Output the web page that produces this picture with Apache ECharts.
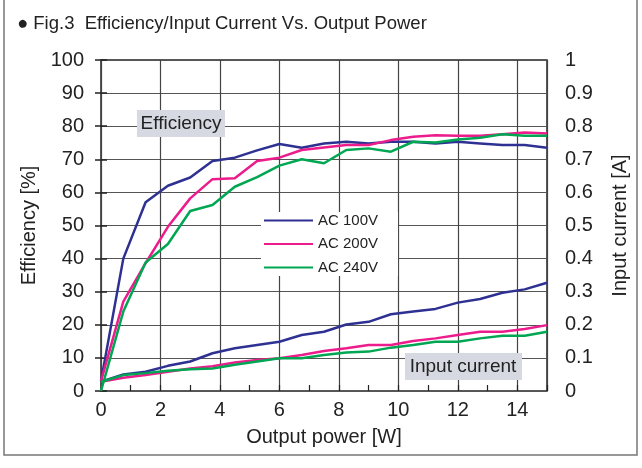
<!DOCTYPE html>
<html>
<head>
<meta charset="utf-8">
<script src="https://cdn.jsdelivr.net/npm/echarts@6/dist/echarts.min.js"></script>
<style>
html,body{margin:0;padding:0;background:#fff;}
#chart{width:642px;height:468px;}
</style>
</head>
<body>
<div id="chart"></div>
<script>
// ---- data ----
const powerW = [0,0.75,1.5,2.25,3,3.75,4.5,5.25,6,6.75,7.5,8.25,9,9.75,10.5,11.25,12,12.75,13.5,14.25,15];
const seriesNames = ['AC 100V','AC 200V','AC 240V'];
const effAC100 = [3,40,57,62,64.5,69.5,70.5,72.7,74.6,73.5,74.8,75.3,74.8,75.3,75.3,74.8,75.3,74.8,74.3,74.3,73.5];
const effAC200 = [3,27,38.6,49.6,58.2,64,64.3,69.5,70.5,72.8,73.6,74.3,74.3,75.8,76.8,77.3,77.1,77.1,77.6,78.1,77.8];
const effAC240 = [0,24,38.8,44.4,54.4,56.2,61.7,64.6,68.1,70,68.8,72.8,73.3,72.3,75.3,75.1,76,76.5,77.6,77.1,77.1];
const curAC100 = [0.028,0.05,0.058,0.076,0.089,0.114,0.129,0.139,0.149,0.169,0.179,0.201,0.209,0.232,0.24,0.248,0.267,0.278,0.297,0.307,0.327];
const curAC200 = [0.028,0.04,0.048,0.058,0.068,0.075,0.086,0.094,0.099,0.109,0.121,0.129,0.139,0.139,0.151,0.159,0.169,0.179,0.179,0.187,0.199];
const curAC240 = [0.028,0.048,0.054,0.061,0.066,0.068,0.079,0.089,0.099,0.099,0.109,0.116,0.119,0.131,0.139,0.149,0.149,0.159,0.167,0.167,0.179];
const titleText = '● Fig.3  Efficiency/Input Current Vs. Output Power';
const xName = 'Output power [W]';
const yLeftName = 'Efficiency [%]';
const yRightName = 'Input current [A]';
const noteEff = 'Efficiency';
const noteCur = 'Input current';

const colors = ['#2e3192','#ec1c8c','#00a651'];
const FONT = '"Liberation Sans", Arial, sans-serif';
const pairs = (ys) => powerW.map((x, i) => [x, ys[i]]);

const effSets = [effAC100, effAC200, effAC240];
const curSets = [curAC100, curAC200, curAC240];
const series = [];
seriesNames.forEach((n, k) => {
  series.push({type:'line', name:n, xAxisIndex:0, yAxisIndex:0, data:pairs(effSets[k]),
    symbol:'none', lineStyle:{color:colors[k], width:2.5}, itemStyle:{color:colors[k]}, z:5});
  series.push({type:'line', name:n, xAxisIndex:0, yAxisIndex:1, data:pairs(curSets[k]),
    symbol:'none', lineStyle:{color:colors[k], width:2.5}, itemStyle:{color:colors[k]}, z:5});
});

const chart = echarts.init(document.getElementById('chart'), null, {renderer:'canvas'});
chart.setOption({
  animation:false,
  backgroundColor:'#fff',
  title:{text:titleText, left:12, top:9, textStyle:{fontFamily:FONT, fontSize:18.5, fontWeight:'normal', color:'#222'}},
  grid:{left:101, top:60, width:446, height:331, show:true, borderColor:'#222', borderWidth:1.5, backgroundColor:'transparent'},
  legend:{
    data:seriesNames, orient:'vertical', left:261, top:212,
    itemWidth:49, itemHeight:14, itemGap:8.5,
    backgroundColor:'#fff', padding:[1,20,1,2],
    lineStyle:{width:2},
    itemStyle:{opacity:0},
    textStyle:{fontFamily:FONT, fontSize:15, color:'#222', lineHeight:14},
    selectedMode:false, z:4
  },
  xAxis:[{
    type:'value', min:0, max:15, interval:2,
    name:xName, nameLocation:'middle', nameGap:36,
    nameTextStyle:{fontFamily:FONT, fontSize:20, color:'#222'},
    axisLine:{show:false}, axisTick:{show:false},
    axisLabel:{fontFamily:FONT, fontSize:20, color:'#222', margin:9, showMaxLabel:false},
    splitLine:{show:true, lineStyle:{color:'#444', width:1.2}}
  },{
    type:'value', min:0, max:15, interval:1, gridIndex:0, position:'bottom',
    axisLine:{show:false}, axisLabel:{show:false}, splitLine:{show:false},
    axisTick:{show:true, inside:true, length:6, lineStyle:{color:'#222', width:1.2}}
  }],
  yAxis:[{
    type:'value', min:0, max:100, interval:10, position:'left',
    name:yLeftName, nameLocation:'middle', nameGap:50,
    nameTextStyle:{fontFamily:FONT, fontSize:20, color:'#222'},
    axisLine:{show:false},
    axisTick:{show:true, inside:true, length:6, lineStyle:{color:'#222', width:1.5}},
    axisLabel:{fontFamily:FONT, fontSize:20, color:'#222', margin:17},
    splitLine:{show:true, lineStyle:{color:'#555', width:1.2}}
  },{
    type:'value', min:0, max:1, interval:0.1, position:'right',
    name:yRightName, nameLocation:'middle', nameGap:63, nameRotate:90,
    nameTextStyle:{fontFamily:FONT, fontSize:20, color:'#222'},
    axisLine:{show:false},
    axisTick:{show:true, inside:true, length:6, lineStyle:{color:'#222', width:1.5}},
    axisLabel:{fontFamily:FONT, fontSize:20, color:'#222', margin:18},
    splitLine:{show:false}
  }],
  series:series,
  graphic:[
    {type:'polyline', shape:{points:[[4,0],[4,455],[637,455],[637,0]]}, style:{stroke:'#777', lineWidth:1.5, fill:null}, silent:true},
    {type:'rect', shape:{x:137, y:110, width:88, height:27}, style:{fill:'#d6d9e1'}, z:10},
    {type:'text', x:181, y:124, style:{text:noteEff, font:'19px '+FONT, fill:'#222', align:'center', verticalAlign:'middle'}, z:11},
    {type:'rect', shape:{x:405, y:353, width:117, height:27}, style:{fill:'#d6d9e1'}, z:10},
    {type:'text', x:463, y:367, style:{text:noteCur, font:'19px '+FONT, fill:'#222', align:'center', verticalAlign:'middle'}, z:11}
  ]
});
</script>
</body>
</html>
